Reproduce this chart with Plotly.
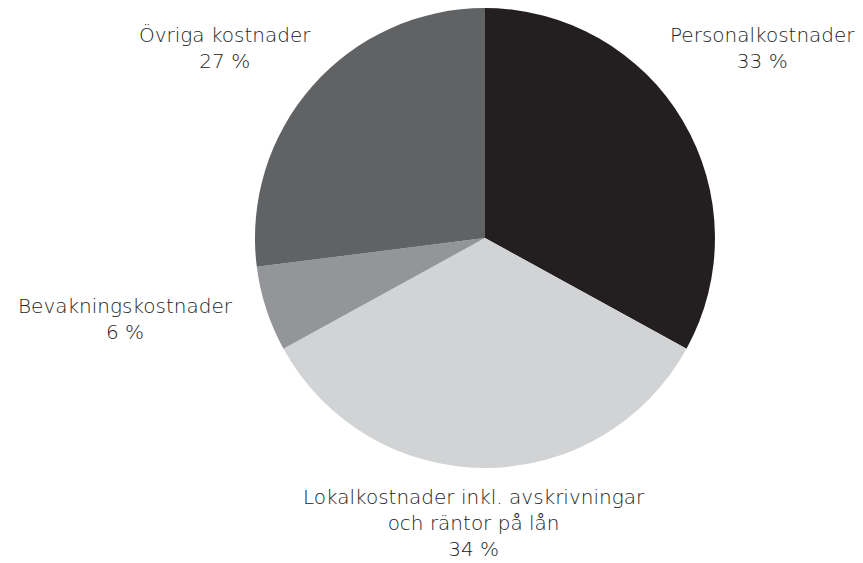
import plotly.graph_objects as go

# Kostnadsfördelning
categories = [
    "Personalkostnader",
    "Lokalkostnader inkl. avskrivningar<br>och räntor på lån",
    "Bevakningskostnader",
    "Övriga kostnader",
]
shares = [33, 34, 6, 27]
colors = ["#231f20", "#d1d3d4", "#939598", "#616264"]

# label centres in paper coords (x, y)
label_pos = [(0.874, 0.929), (0.540, 0.086), (0.136, 0.448), (0.251, 0.929)]

fig = go.Figure(
    go.Pie(
        labels=categories,
        values=shares,
        sort=False,
        direction="clockwise",
        rotation=0,
        marker=dict(colors=colors, line=dict(width=0)),
        textinfo="none",
        hoverinfo="label+percent",
        showlegend=False,
        domain=dict(x=[0.2862, 0.8192], y=[0.1829, 1.0]),
    )
)

for cat, val, (x, y) in zip(categories, shares, label_pos):
    fig.add_annotation(
        x=x, y=y, xref="paper", yref="paper",
        text=f"{cat}<br>{val} %",
        showarrow=False,
        xanchor="center", yanchor="middle",
        align="center",
        font=dict(family="DejaVu Sans", size=20, color="#222222", weight=300),
    )

fig.update_layout(
    width=863,
    height=563,
    margin=dict(l=0, r=0, t=0, b=0),
    paper_bgcolor="white",
    plot_bgcolor="white",
)

fig.write_html("out.html")
